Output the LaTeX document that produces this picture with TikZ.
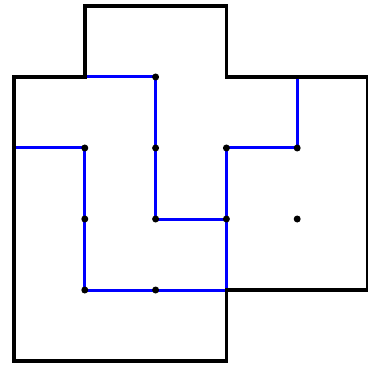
\documentclass[tikz,border=0pt]{standalone}
\begin{document}
\begin{tikzpicture}[x=70.8pt,y=-71pt,
  outline/.style={line width=3.6pt,black,line join=miter},
  pathline/.style={line width=3pt,blue,line join=round},
  gdot/.style={circle,fill=black,inner sep=0pt,minimum size=7pt}]
\useasboundingbox (-0.1977,-0.0845) rectangle (5,5.0563);
\foreach \i in {0,...,5}{\foreach \j in {0,...,5}{\coordinate (p\i\j) at (\i,\j);}}
% blue path
\draw[pathline] (p11) -- (p21) -- (p23) -- (p33);
\draw[pathline] (p32) -- (p34);
\draw[pathline] (p32) -- (p42) -- (p41);
\draw[pathline] (p02) -- (p12) -- (p14) -- (p34);
% outline
\draw[outline] (p10) -- (p30) -- (p31) -- (p51) -- (p54) -- (p34) -- (p35) -- (p05) -- (p01) -- (p11) -- cycle;
% dots
\foreach \p in {21,12,22,32,42,13,23,33,43,14,24}{\node[gdot] (d\p) at (p\p) {};}
\end{tikzpicture}
\end{document}
